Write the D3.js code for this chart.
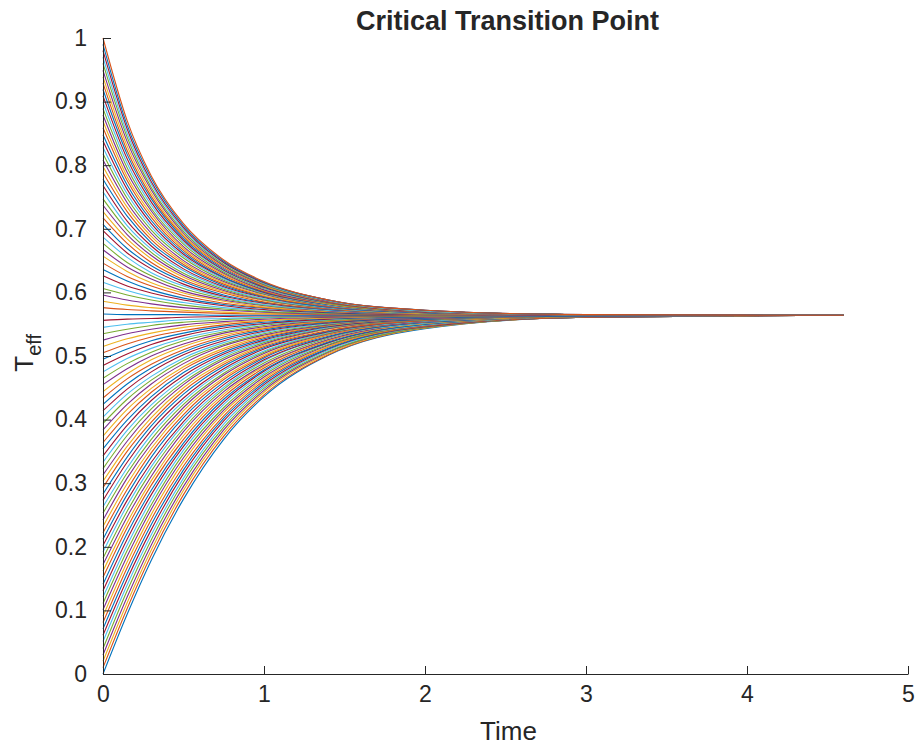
<!DOCTYPE html>
<html>
<head>
<meta charset="utf-8">
<script src="https://cdn.jsdelivr.net/npm/d3@7"></script>
<style>
  body { margin: 0; background: #fff; }
  svg text { font-family: "Liberation Sans", Arial, sans-serif; fill: #262626; }
  .axis path, .axis line { stroke: #262626; stroke-width: 1; }
</style>
</head>
<body>
<div id="chart"></div>
<script>
// time samples (x), every curve has one value per sample
var timePoints = [0, 0.15, 0.3, 0.5, 0.75, 1, 1.4, 2, 3, 4.6];

// T_eff curves, one row per starting value (0 -> 1, 100 runs)
var teffCurves = [
  [0.000,0.094,0.179,0.275,0.369,0.436,0.501,0.543,0.561,0.564],
  [0.010,0.103,0.187,0.282,0.374,0.439,0.502,0.544,0.561,0.564],
  [0.020,0.112,0.195,0.289,0.379,0.443,0.504,0.544,0.561,0.564],
  [0.030,0.121,0.203,0.295,0.384,0.446,0.506,0.545,0.561,0.564],
  [0.040,0.131,0.211,0.302,0.388,0.449,0.507,0.545,0.561,0.564],
  [0.051,0.140,0.219,0.308,0.393,0.452,0.509,0.546,0.561,0.564],
  [0.061,0.149,0.227,0.315,0.398,0.455,0.511,0.546,0.561,0.564],
  [0.071,0.158,0.235,0.321,0.402,0.458,0.512,0.547,0.561,0.564],
  [0.081,0.167,0.243,0.327,0.406,0.461,0.514,0.547,0.561,0.564],
  [0.091,0.176,0.251,0.334,0.411,0.464,0.515,0.548,0.562,0.564],
  [0.101,0.185,0.259,0.340,0.415,0.467,0.517,0.548,0.562,0.564],
  [0.111,0.194,0.266,0.346,0.419,0.470,0.518,0.549,0.562,0.564],
  [0.121,0.203,0.274,0.352,0.424,0.473,0.520,0.549,0.562,0.564],
  [0.131,0.212,0.282,0.358,0.428,0.476,0.521,0.550,0.562,0.564],
  [0.141,0.221,0.289,0.363,0.432,0.478,0.522,0.550,0.562,0.564],
  [0.152,0.230,0.297,0.369,0.436,0.481,0.524,0.551,0.562,0.564],
  [0.162,0.238,0.304,0.375,0.440,0.484,0.525,0.551,0.562,0.564],
  [0.172,0.247,0.311,0.381,0.444,0.486,0.526,0.552,0.562,0.564],
  [0.182,0.256,0.319,0.386,0.448,0.489,0.528,0.552,0.562,0.564],
  [0.192,0.265,0.326,0.392,0.451,0.492,0.529,0.552,0.562,0.564],
  [0.202,0.273,0.333,0.397,0.455,0.494,0.530,0.553,0.562,0.564],
  [0.212,0.282,0.341,0.403,0.459,0.497,0.531,0.553,0.562,0.564],
  [0.222,0.290,0.348,0.408,0.463,0.499,0.533,0.554,0.562,0.564],
  [0.232,0.299,0.355,0.414,0.466,0.501,0.534,0.554,0.562,0.564],
  [0.242,0.308,0.362,0.419,0.470,0.504,0.535,0.554,0.563,0.564],
  [0.253,0.316,0.369,0.424,0.473,0.506,0.536,0.555,0.563,0.564],
  [0.263,0.324,0.376,0.429,0.477,0.508,0.537,0.555,0.563,0.564],
  [0.273,0.333,0.383,0.434,0.480,0.511,0.538,0.556,0.563,0.564],
  [0.283,0.341,0.390,0.440,0.484,0.513,0.539,0.556,0.563,0.564],
  [0.293,0.350,0.396,0.445,0.487,0.515,0.540,0.556,0.563,0.564],
  [0.303,0.358,0.403,0.450,0.490,0.517,0.542,0.557,0.563,0.564],
  [0.313,0.366,0.410,0.455,0.494,0.519,0.543,0.557,0.563,0.564],
  [0.323,0.375,0.417,0.459,0.497,0.521,0.544,0.557,0.563,0.564],
  [0.333,0.383,0.423,0.464,0.500,0.523,0.545,0.558,0.563,0.564],
  [0.343,0.391,0.430,0.469,0.503,0.525,0.546,0.558,0.563,0.564],
  [0.354,0.399,0.436,0.474,0.506,0.527,0.547,0.558,0.563,0.564],
  [0.364,0.408,0.443,0.479,0.509,0.529,0.548,0.559,0.563,0.564],
  [0.374,0.416,0.449,0.483,0.512,0.531,0.548,0.559,0.563,0.564],
  [0.384,0.424,0.456,0.488,0.516,0.533,0.549,0.559,0.563,0.564],
  [0.394,0.432,0.462,0.493,0.518,0.535,0.550,0.560,0.563,0.564],
  [0.404,0.440,0.468,0.497,0.521,0.537,0.551,0.560,0.563,0.564],
  [0.414,0.448,0.475,0.502,0.524,0.539,0.552,0.560,0.563,0.564],
  [0.424,0.456,0.481,0.506,0.527,0.541,0.553,0.560,0.563,0.564],
  [0.434,0.464,0.487,0.510,0.530,0.543,0.554,0.561,0.564,0.564],
  [0.444,0.472,0.494,0.515,0.533,0.544,0.555,0.561,0.564,0.564],
  [0.455,0.480,0.500,0.519,0.536,0.546,0.556,0.561,0.564,0.564],
  [0.465,0.488,0.506,0.524,0.538,0.548,0.556,0.562,0.564,0.564],
  [0.475,0.496,0.512,0.528,0.541,0.550,0.557,0.562,0.564,0.564],
  [0.485,0.503,0.518,0.532,0.544,0.551,0.558,0.562,0.564,0.564],
  [0.495,0.511,0.524,0.536,0.547,0.553,0.559,0.562,0.564,0.564],
  [0.505,0.519,0.530,0.540,0.549,0.555,0.560,0.563,0.564,0.564],
  [0.515,0.527,0.536,0.545,0.552,0.556,0.560,0.563,0.564,0.564],
  [0.525,0.535,0.542,0.549,0.554,0.558,0.561,0.563,0.564,0.564],
  [0.535,0.542,0.548,0.553,0.557,0.560,0.562,0.563,0.564,0.564],
  [0.545,0.550,0.553,0.557,0.559,0.561,0.563,0.564,0.564,0.564],
  [0.556,0.558,0.559,0.561,0.562,0.563,0.563,0.564,0.564,0.564],
  [0.566,0.565,0.565,0.565,0.564,0.564,0.564,0.564,0.564,0.564],
  [0.576,0.573,0.571,0.569,0.567,0.566,0.565,0.564,0.564,0.564],
  [0.586,0.580,0.576,0.572,0.569,0.567,0.566,0.565,0.564,0.564],
  [0.596,0.588,0.582,0.576,0.572,0.569,0.566,0.565,0.564,0.564],
  [0.606,0.596,0.588,0.580,0.574,0.570,0.567,0.565,0.564,0.564],
  [0.616,0.603,0.593,0.584,0.576,0.572,0.568,0.565,0.564,0.564],
  [0.626,0.610,0.599,0.588,0.579,0.573,0.568,0.565,0.564,0.564],
  [0.636,0.618,0.604,0.591,0.581,0.575,0.569,0.566,0.564,0.564],
  [0.646,0.625,0.610,0.595,0.583,0.576,0.570,0.566,0.564,0.564],
  [0.657,0.633,0.615,0.599,0.586,0.577,0.570,0.566,0.564,0.564],
  [0.667,0.640,0.621,0.602,0.588,0.579,0.571,0.566,0.564,0.564],
  [0.677,0.647,0.626,0.606,0.590,0.580,0.572,0.566,0.564,0.564],
  [0.687,0.655,0.631,0.610,0.592,0.581,0.572,0.567,0.564,0.564],
  [0.697,0.662,0.637,0.613,0.594,0.583,0.573,0.567,0.564,0.564],
  [0.707,0.669,0.642,0.617,0.596,0.584,0.573,0.567,0.565,0.564],
  [0.717,0.677,0.647,0.620,0.599,0.585,0.574,0.567,0.565,0.564],
  [0.727,0.684,0.653,0.624,0.601,0.587,0.575,0.567,0.565,0.564],
  [0.737,0.691,0.658,0.627,0.603,0.588,0.575,0.568,0.565,0.564],
  [0.747,0.698,0.663,0.630,0.605,0.589,0.576,0.568,0.565,0.564],
  [0.758,0.705,0.668,0.634,0.607,0.590,0.576,0.568,0.565,0.564],
  [0.768,0.712,0.673,0.637,0.609,0.592,0.577,0.568,0.565,0.564],
  [0.778,0.720,0.678,0.641,0.611,0.593,0.577,0.568,0.565,0.564],
  [0.788,0.727,0.683,0.644,0.613,0.594,0.578,0.569,0.565,0.564],
  [0.798,0.734,0.688,0.647,0.615,0.595,0.579,0.569,0.565,0.564],
  [0.808,0.741,0.693,0.650,0.617,0.597,0.579,0.569,0.565,0.564],
  [0.818,0.748,0.698,0.654,0.619,0.598,0.580,0.569,0.565,0.564],
  [0.828,0.755,0.703,0.657,0.621,0.599,0.580,0.569,0.565,0.564],
  [0.838,0.762,0.708,0.660,0.623,0.600,0.581,0.569,0.565,0.564],
  [0.848,0.769,0.713,0.663,0.624,0.601,0.581,0.570,0.565,0.564],
  [0.859,0.776,0.718,0.666,0.626,0.602,0.582,0.570,0.565,0.564],
  [0.869,0.782,0.723,0.669,0.628,0.603,0.582,0.570,0.565,0.564],
  [0.879,0.789,0.728,0.672,0.630,0.604,0.583,0.570,0.565,0.564],
  [0.889,0.796,0.732,0.676,0.632,0.606,0.583,0.570,0.565,0.564],
  [0.899,0.803,0.737,0.679,0.634,0.607,0.584,0.570,0.565,0.564],
  [0.909,0.810,0.742,0.682,0.635,0.608,0.584,0.570,0.565,0.564],
  [0.919,0.817,0.747,0.685,0.637,0.609,0.585,0.571,0.565,0.564],
  [0.929,0.823,0.751,0.688,0.639,0.610,0.585,0.571,0.565,0.564],
  [0.939,0.830,0.756,0.690,0.641,0.611,0.586,0.571,0.565,0.564],
  [0.949,0.837,0.761,0.693,0.642,0.612,0.586,0.571,0.565,0.564],
  [0.960,0.844,0.765,0.696,0.644,0.613,0.587,0.571,0.565,0.564],
  [0.970,0.850,0.770,0.699,0.646,0.614,0.587,0.571,0.565,0.564],
  [0.980,0.857,0.774,0.702,0.647,0.615,0.588,0.572,0.565,0.564],
  [0.990,0.863,0.779,0.705,0.649,0.616,0.588,0.572,0.565,0.564],
  [1.000,0.870,0.783,0.708,0.651,0.617,0.588,0.572,0.565,0.564]
];

// axis ticks
var xTicks = [0, 1, 2, 3, 4, 5];
var yTicks = [0, 0.1, 0.2, 0.3, 0.4, 0.5, 0.6, 0.7, 0.8, 0.9, 1];
var yTickLabels = ["0", "0.1", "0.2", "0.3", "0.4", "0.5", "0.6", "0.7", "0.8", "0.9", "1"];

// matlab default line colour order
var lineColors = ["#0072BD", "#D95319", "#EDB120", "#7E2F8E", "#77AC30", "#4DBEEE", "#A2142F"];

var margin = {top: 38, right: 9, bottom: 74, left: 103};
var width = 917 - margin.left - margin.right;
var height = 748 - margin.top - margin.bottom;

var svg = d3.select("#chart")
  .append("svg")
  .attr("width", width + margin.left + margin.right)
  .attr("height", height + margin.top + margin.bottom)
  .append("g")
  .attr("transform", "translate(" + margin.left + "," + margin.top + ")");

var xScale = d3.scaleLinear()
  .range([0, width])
  .domain([0, 5]);

var yScale = d3.scaleLinear()
  .range([height, 0])
  .domain([0, 1]);

var line = d3.line()
  .x(function(d, i) { return xScale(timePoints[i]); })
  .y(function(d) { return yScale(d); })
  .curve(d3.curveMonotoneX);

// draw curves, first run at the bottom of the stack
svg.selectAll(".curve")
  .data(teffCurves)
  .enter()
  .append("path")
  .attr("class", "curve")
  .attr("d", line)
  .style("fill", "none")
  .style("stroke", function(d, i) { return lineColors[i % lineColors.length]; })
  .style("stroke-width", 1.1);

// draw axis (ticks point inward like matlab)
svg.append("g")
  .attr("class", "axis")
  .attr("transform", "translate(0," + height + ")")
  .call(d3.axisBottom(xScale)
    .tickValues(xTicks)
    .tickFormat(d3.format("d"))
    .tickSizeInner(-8)
    .tickSizeOuter(0)
    .tickPadding(12))
  .call(function(g) {
    g.selectAll("text").style("font-size", "23px").attr("fill", "#262626");
  });

svg.append("g")
  .attr("class", "axis")
  .call(d3.axisLeft(yScale)
    .tickValues(yTicks)
    .tickFormat(function(d, i) { return yTickLabels[i]; })
    .tickSizeInner(-8)
    .tickSizeOuter(0)
    .tickPadding(16))
  .call(function(g) {
    g.selectAll("text").style("font-size", "23px").attr("fill", "#262626");
  });

// title and labels
svg.append("text")
  .attr("x", width / 2 + 2)
  .attr("y", -8)
  .attr("text-anchor", "middle")
  .style("font-size", "27px")
  .style("font-weight", "bold")
  .text("Critical Transition Point");

svg.append("text")
  .attr("x", width / 2 + 3)
  .attr("y", height + 66)
  .attr("text-anchor", "middle")
  .style("font-size", "26px")
  .text("Time");

var ylabel = svg.append("text")
  .attr("transform", "translate(-70," + yScale(0.505) + ") rotate(-90)")
  .attr("text-anchor", "middle")
  .style("font-size", "26px");
ylabel.append("tspan").text("T");
ylabel.append("tspan")
  .attr("dy", 8)
  .style("font-size", "20px")
  .text("eff");
</script>
</body>
</html>
